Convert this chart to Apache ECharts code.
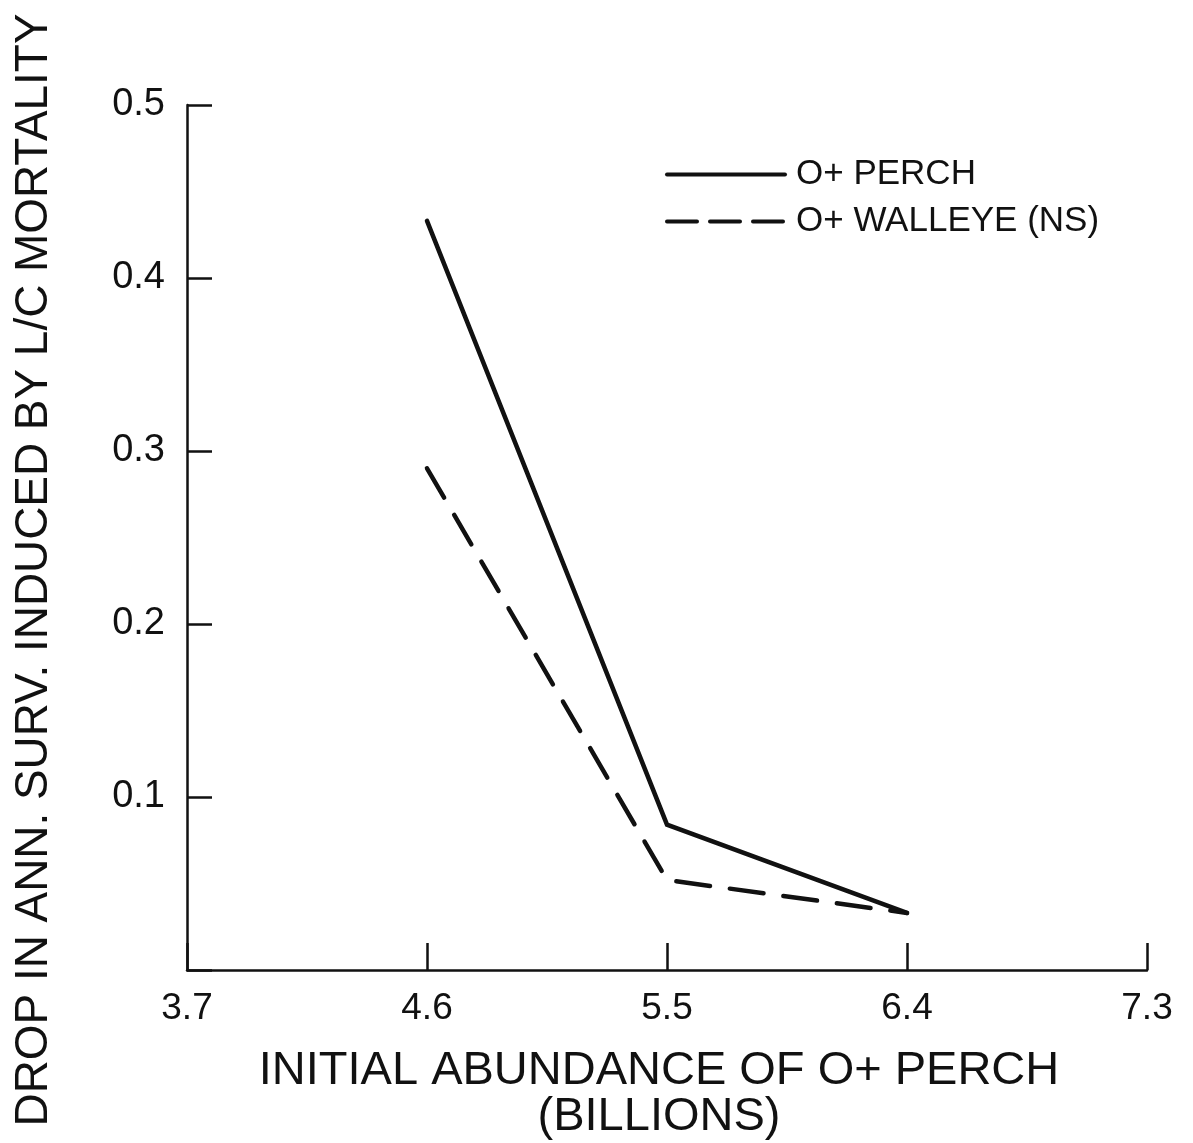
<!DOCTYPE html>
<html>
<head>
<meta charset="utf-8">
<script src="https://cdn.jsdelivr.net/npm/echarts@6/dist/echarts.min.js"></script>
<style>
  html, body { margin: 0; padding: 0; background: #fff; }
  #chart { width: 1193px; height: 1143px; }
</style>
</head>
<body>
<div id="chart"></div>
<script>
// Initial abundance of 0+ perch (billions) — axis categories
const abundance = ['3.7', '4.6', '5.5', '6.4', '7.3'];
// Drop in annual survival induced by L/C mortality
const perchDrop = ['-', 0.433, 0.084, 0.033, '-'];
const walleyeDrop = ['-', 0.290, 0.052, 0.033, '-'];
const yTicks = [0.1, 0.2, 0.3, 0.4, 0.5];

const yTitle = 'DROP IN ANN. SURV. INDUCED BY L/C MORTALITY';
const xTitle = 'INITIAL ABUNDANCE OF O+ PERCH\n(BILLIONS)';

const ink = '#111';

// The vertical title is set in a condensed face: squeeze a regular face to the run length
const yTitleFont = '46px "Liberation Sans"';
const yTitleLength = 1113;
const ctx = document.createElement('canvas').getContext('2d');
ctx.font = yTitleFont;
const yTitleSqueeze = yTitleLength / ctx.measureText(yTitle).width;

const chart = echarts.init(document.getElementById('chart'));

chart.setOption({
  backgroundColor: '#fff',
  animation: false,
  grid: { left: 187, right: 46, top: 105, bottom: 173, containLabel: false, outerBoundsMode: 'none' },
  legend: {
    orient: 'vertical',
    left: 660,
    top: 152,
    itemWidth: 118,
    itemHeight: 20,
    itemGap: 12,
    itemStyle: { opacity: 0 },
    textStyle: { fontFamily: 'Liberation Sans', fontSize: 35, color: ink, padding: [0, 0, 0, 6] },
    data: [
      { name: 'O+ PERCH', lineStyle: { color: ink, width: 4, type: 'solid' } },
      { name: 'O+ WALLEYE (NS)', lineStyle: { color: ink, width: 4, type: [30, 13] } }
    ]
  },
  graphic: [{
    type: 'text',
    x: 34,
    y: 570,
    rotation: Math.PI / 2,
    scaleX: yTitleSqueeze,
    style: {
      text: yTitle,
      font: yTitleFont,
      fill: ink,
      textAlign: 'center',
      textVerticalAlign: 'middle'
    }
  }],
  xAxis: {
    type: 'category',
    data: abundance,
    boundaryGap: false,
    name: xTitle,
    nameLocation: 'middle',
    nameGap: 78,
    nameTextStyle: {
      fontFamily: 'Liberation Sans', fontSize: 47, color: ink, lineHeight: 46,
      align: 'center', verticalAlign: 'top', padding: [0, 16, 0, 0]
    },
    axisLine: { lineStyle: { color: ink, width: 2.5 } },
    axisTick: { show: true, inside: true, length: 27, alignWithLabel: true, lineStyle: { color: ink, width: 2.5 } },
    axisLabel: { fontFamily: 'Liberation Sans', fontSize: 37, color: ink, margin: 20 },
    splitLine: { show: false }
  },
  yAxis: {
    type: 'value',
    min: 0,
    max: 0.5,
    interval: 0.1,
    axisLine: { show: true, lineStyle: { color: ink, width: 2.5 } },
    axisTick: { show: true, inside: true, length: 25, lineStyle: { color: ink, width: 2.5 } },
    axisLabel: {
      fontFamily: 'Liberation Sans', fontSize: 38, color: ink, margin: 22,
      formatter: v => (yTicks.some(t => Math.abs(t - v) < 1e-9) ? v.toFixed(1) : '')
    },
    splitLine: { show: false }
  },
  series: [
    {
      name: 'O+ PERCH',
      type: 'line',
      data: perchDrop,
      symbol: 'none',
      lineStyle: { color: ink, width: 4.5, cap: 'round', join: 'miter' },
      itemStyle: { color: ink }
    },
    {
      name: 'O+ WALLEYE (NS)',
      type: 'line',
      data: walleyeDrop,
      symbol: 'none',
      lineStyle: { color: ink, width: 4.5, type: [34, 20], cap: 'round', join: 'miter' },
      itemStyle: { color: ink }
    }
  ]
});
</script>
</body>
</html>
